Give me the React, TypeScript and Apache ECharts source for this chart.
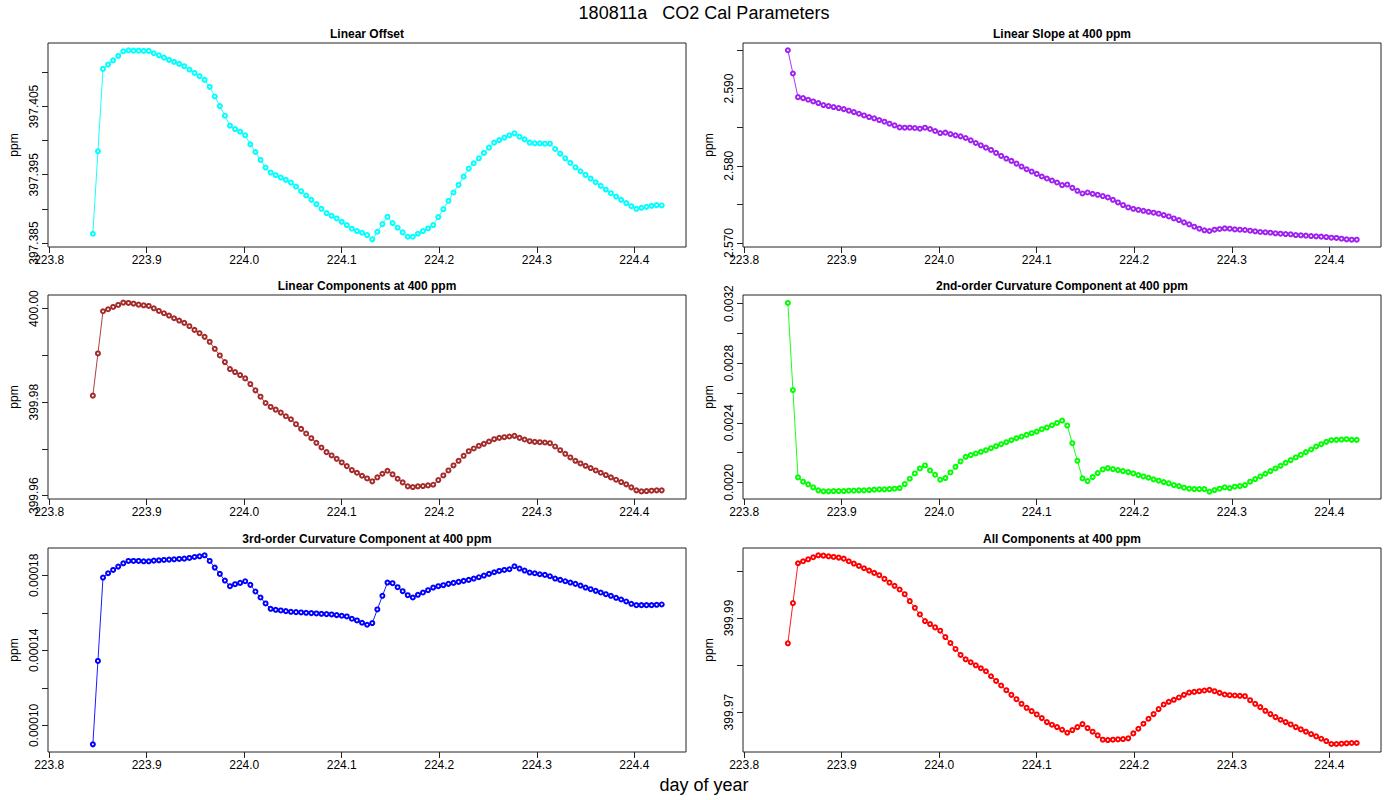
import React, { useEffect, useRef } from "react";
import * as echarts from "echarts";

// sample times (day of year), 7.5 min sampling
const dayOfYear = [
  223.8448, 223.8500, 223.8552, 223.8604, 223.8656, 223.8708, 223.8760, 223.8813, 223.8865, 223.8917,
  223.8969, 223.9021, 223.9073, 223.9125, 223.9177, 223.9229, 223.9281, 223.9333, 223.9385, 223.9438,
  223.9490, 223.9542, 223.9594, 223.9646, 223.9698, 223.9750, 223.9802, 223.9854, 223.9906, 223.9958,
  224.0010, 224.0063, 224.0115, 224.0167, 224.0219, 224.0271, 224.0323, 224.0375, 224.0427, 224.0479,
  224.0531, 224.0583, 224.0635, 224.0688, 224.0740, 224.0792, 224.0844, 224.0896, 224.0948, 224.1000,
  224.1052, 224.1104, 224.1156, 224.1208, 224.1260, 224.1313, 224.1365, 224.1417, 224.1469, 224.1521,
  224.1573, 224.1625, 224.1677, 224.1729, 224.1781, 224.1833, 224.1885, 224.1938, 224.1990, 224.2042,
  224.2094, 224.2146, 224.2198, 224.2250, 224.2302, 224.2354, 224.2406, 224.2458, 224.2510, 224.2563,
  224.2615, 224.2667, 224.2719, 224.2771, 224.2823, 224.2875, 224.2927, 224.2979, 224.3031, 224.3083,
  224.3135, 224.3188, 224.3240, 224.3292, 224.3344, 224.3396, 224.3448, 224.3500, 224.3552, 224.3604,
  224.3656, 224.3708, 224.3760, 224.3813, 224.3865, 224.3917, 224.3969, 224.4021, 224.4073, 224.4125,
  224.4177, 224.4229, 224.4281,
];

const linearOffset = [
  397.38636, 397.39843, 397.41050, 397.41113, 397.41176, 397.41240, 397.41308, 397.41322, 397.41317, 397.41317,
  397.41313, 397.41313, 397.41279, 397.41249, 397.41215, 397.41181, 397.41152, 397.41123, 397.41089, 397.41040,
  397.40991, 397.40943, 397.40889, 397.40787, 397.40646, 397.40505, 397.40364, 397.40218, 397.40169, 397.40130,
  397.40077, 397.39945, 397.39833, 397.39717, 397.39605, 397.39532, 397.39493, 397.39459, 397.39425, 397.39386,
  397.39327, 397.39259, 397.39196, 397.39133, 397.39069, 397.39001, 397.38938, 397.38899, 397.38860, 397.38811,
  397.38763, 397.38709, 397.38675, 397.38651, 397.38617, 397.38554, 397.38665, 397.38777, 397.38884, 397.38792,
  397.38724, 397.38656, 397.38592, 397.38592, 397.38636, 397.38675, 397.38714, 397.38763, 397.38880, 397.38996,
  397.39118, 397.39240, 397.39352, 397.39473, 397.39590, 397.39668, 397.39741, 397.39819, 397.39897, 397.39970,
  397.40008, 397.40043, 397.40077, 397.40106, 397.40057, 397.40018, 397.39970, 397.39960, 397.39960, 397.39955,
  397.39955, 397.39877, 397.39809, 397.39741, 397.39673, 397.39609, 397.39551, 397.39498, 397.39444, 397.39390,
  397.39337, 397.39283, 397.39230, 397.39181, 397.39133, 397.39084, 397.39040, 397.39001, 397.39016, 397.39030,
  397.39045, 397.39055, 397.39050,
];

const linearSlope = [
  2.59496, 2.59195, 2.58889, 2.58876, 2.58855, 2.58833, 2.58812, 2.58786, 2.58773, 2.58760,
  2.58747, 2.58734, 2.58713, 2.58695, 2.58674, 2.58652, 2.58631, 2.58614, 2.58592, 2.58571,
  2.58545, 2.58523, 2.58497, 2.58493, 2.58493, 2.58489, 2.58480, 2.58493, 2.58476, 2.58450,
  2.58424, 2.58429, 2.58411, 2.58394, 2.58381, 2.58360, 2.58330, 2.58295, 2.58265, 2.58235,
  2.58205, 2.58166, 2.58127, 2.58093, 2.58063, 2.58028, 2.57990, 2.57955, 2.57925, 2.57895,
  2.57861, 2.57835, 2.57809, 2.57783, 2.57749, 2.57757, 2.57714, 2.57676, 2.57641, 2.57654,
  2.57637, 2.57624, 2.57607, 2.57590, 2.57559, 2.57525, 2.57491, 2.57460, 2.57443, 2.57430,
  2.57417, 2.57404, 2.57392, 2.57379, 2.57361, 2.57344, 2.57318, 2.57297, 2.57267, 2.57241,
  2.57211, 2.57185, 2.57164, 2.57155, 2.57172, 2.57181, 2.57189, 2.57185, 2.57176, 2.57172,
  2.57168, 2.57159, 2.57151, 2.57142, 2.57138, 2.57133, 2.57125, 2.57120, 2.57116, 2.57112,
  2.57103, 2.57099, 2.57095, 2.57090, 2.57086, 2.57082, 2.57077, 2.57069, 2.57065, 2.57056,
  2.57047, 2.57043, 2.57043,
];

const linearComponents = [
  399.98139, 399.99041, 399.99943, 399.99986, 400.00036, 400.00078, 400.00128, 400.00121, 400.00107, 400.00085,
  400.00071, 400.00057, 400.00007, 399.99950, 399.99901, 399.99851, 399.99794, 399.99744, 399.99695, 399.99624,
  399.99545, 399.99474, 399.99396, 399.99290, 399.99140, 399.98998, 399.98856, 399.98707, 399.98643, 399.98579,
  399.98508, 399.98387, 399.98252, 399.98117, 399.97982, 399.97897, 399.97840, 399.97776, 399.97698, 399.97634,
  399.97528, 399.97428, 399.97329, 399.97229, 399.97130, 399.97030, 399.96931, 399.96860, 399.96789, 399.96711,
  399.96632, 399.96547, 399.96490, 399.96426, 399.96369, 399.96306, 399.96391, 399.96469, 399.96533, 399.96455,
  399.96362, 399.96284, 399.96199, 399.96185, 399.96199, 399.96206, 399.96220, 399.96234, 399.96334, 399.96433,
  399.96540, 399.96647, 399.96746, 399.96853, 399.96952, 399.97009, 399.97066, 399.97108, 399.97158, 399.97208,
  399.97236, 399.97250, 399.97265, 399.97279, 399.97236, 399.97201, 399.97165, 399.97151, 399.97144, 399.97137,
  399.97123, 399.97052, 399.96973, 399.96895, 399.96817, 399.96746, 399.96689, 399.96639, 399.96590, 399.96540,
  399.96490, 399.96441, 399.96391, 399.96341, 399.96291, 399.96242, 399.96178, 399.96114, 399.96092, 399.96099,
  399.96107, 399.96114, 399.96114,
];

const curvature2nd = [
  0.0032044, 0.0026200, 0.0020335, 0.0020045, 0.0019866, 0.0019665, 0.0019465, 0.0019398, 0.0019398, 0.0019420,
  0.0019420, 0.0019420, 0.0019442, 0.0019442, 0.0019465, 0.0019465, 0.0019487, 0.0019509, 0.0019532, 0.0019532,
  0.0019554, 0.0019576, 0.0019621, 0.0019888, 0.0020245, 0.0020602, 0.0020937, 0.0021138, 0.0020803, 0.0020513,
  0.0020178, 0.0020290, 0.0020669, 0.0021048, 0.0021405, 0.0021717, 0.0021829, 0.0021940, 0.0022052, 0.0022163,
  0.0022297, 0.0022431, 0.0022565, 0.0022699, 0.0022833, 0.0022966, 0.0023078, 0.0023189, 0.0023301, 0.0023413,
  0.0023569, 0.0023680, 0.0023836, 0.0023992, 0.0024149, 0.0023814, 0.0022632, 0.0021450, 0.0020268, 0.0020089,
  0.0020357, 0.0020625, 0.0020870, 0.0020959, 0.0020892, 0.0020825, 0.0020758, 0.0020691, 0.0020602, 0.0020491,
  0.0020401, 0.0020312, 0.0020201, 0.0020112, 0.0020022, 0.0019933, 0.0019822, 0.0019755, 0.0019643, 0.0019576,
  0.0019554, 0.0019554, 0.0019554, 0.0019375, 0.0019487, 0.0019576, 0.0019665, 0.0019621, 0.0019710, 0.0019755,
  0.0019822, 0.0020045, 0.0020223, 0.0020401, 0.0020580, 0.0020758, 0.0020937, 0.0021115, 0.0021316, 0.0021494,
  0.0021673, 0.0021851, 0.0022030, 0.0022208, 0.0022409, 0.0022565, 0.0022721, 0.0022833, 0.0022855, 0.0022877,
  0.0022900, 0.0022855, 0.0022855,
];

const curvature3rd = [
  0.8991e-4, 1.3434e-4, 1.7876e-4, 1.8106e-4, 1.8283e-4, 1.8460e-4, 1.8637e-4, 1.8761e-4, 1.8761e-4, 1.8761e-4,
  1.8743e-4, 1.8743e-4, 1.8779e-4, 1.8796e-4, 1.8814e-4, 1.8832e-4, 1.8850e-4, 1.8867e-4, 1.8885e-4, 1.8920e-4,
  1.8973e-4, 1.9009e-4, 1.9062e-4, 1.8761e-4, 1.8407e-4, 1.8071e-4, 1.7717e-4, 1.7416e-4, 1.7522e-4, 1.7593e-4,
  1.7681e-4, 1.7487e-4, 1.7133e-4, 1.6814e-4, 1.6496e-4, 1.6212e-4, 1.6159e-4, 1.6124e-4, 1.6088e-4, 1.6053e-4,
  1.6035e-4, 1.6018e-4, 1.6000e-4, 1.5982e-4, 1.5965e-4, 1.5947e-4, 1.5929e-4, 1.5911e-4, 1.5876e-4, 1.5841e-4,
  1.5805e-4, 1.5681e-4, 1.5593e-4, 1.5469e-4, 1.5363e-4, 1.5451e-4, 1.6177e-4, 1.6903e-4, 1.7611e-4, 1.7575e-4,
  1.7363e-4, 1.7150e-4, 1.6938e-4, 1.6814e-4, 1.6956e-4, 1.7080e-4, 1.7203e-4, 1.7345e-4, 1.7416e-4, 1.7469e-4,
  1.7540e-4, 1.7593e-4, 1.7646e-4, 1.7699e-4, 1.7752e-4, 1.7823e-4, 1.7894e-4, 1.7982e-4, 1.8071e-4, 1.8159e-4,
  1.8230e-4, 1.8283e-4, 1.8319e-4, 1.8478e-4, 1.8354e-4, 1.8248e-4, 1.8142e-4, 1.8106e-4, 1.8053e-4, 1.8018e-4,
  1.7947e-4, 1.7823e-4, 1.7752e-4, 1.7681e-4, 1.7611e-4, 1.7540e-4, 1.7451e-4, 1.7345e-4, 1.7257e-4, 1.7168e-4,
  1.7080e-4, 1.6991e-4, 1.6903e-4, 1.6796e-4, 1.6708e-4, 1.6602e-4, 1.6478e-4, 1.6407e-4, 1.6407e-4, 1.6407e-4,
  1.6407e-4, 1.6425e-4, 1.6442e-4,
];

const allComponents = [
  399.98461, 399.99315, 400.00162, 400.00204, 400.00246, 400.00289, 400.00331, 400.00324, 400.00310, 400.00296,
  400.00282, 400.00260, 400.00204, 400.00155, 400.00105, 400.00056, 400.00006, 399.99957, 399.99908, 399.99830,
  399.99752, 399.99682, 399.99604, 399.99505, 399.99357, 399.99216, 399.99075, 399.98934, 399.98870, 399.98800,
  399.98729, 399.98595, 399.98468, 399.98341, 399.98214, 399.98122, 399.98059, 399.97995, 399.97932, 399.97868,
  399.97762, 399.97663, 399.97565, 399.97466, 399.97367, 399.97275, 399.97176, 399.97092, 399.97021, 399.96951,
  399.96873, 399.96788, 399.96732, 399.96682, 399.96626, 399.96562, 399.96619, 399.96682, 399.96746, 399.96661,
  399.96584, 399.96506, 399.96414, 399.96407, 399.96414, 399.96421, 399.96428, 399.96443, 399.96548, 399.96647,
  399.96753, 399.96859, 399.96958, 399.97064, 399.97162, 399.97219, 399.97261, 399.97311, 399.97367, 399.97416,
  399.97430, 399.97445, 399.97459, 399.97473, 399.97445, 399.97409, 399.97374, 399.97360, 399.97353, 399.97346,
  399.97339, 399.97254, 399.97176, 399.97106, 399.97028, 399.96958, 399.96894, 399.96838, 399.96788, 399.96739,
  399.96682, 399.96633, 399.96584, 399.96534, 399.96485, 399.96435, 399.96386, 399.96323, 399.96323, 399.96330,
  399.96337, 399.96344, 399.96344,
];

// axis ticks and labels
const xTicks = [223.8, 223.9, 224.0, 224.1, 224.2, 224.3, 224.4];
const offsetTicks = [397.385, 397.39, 397.395, 397.4, 397.405, 397.41];
const offsetLabels = [397.385, 397.395, 397.405];
const slopeTicks = [2.57, 2.575, 2.58, 2.585, 2.59, 2.595];
const slopeLabels = [2.57, 2.58, 2.59];
const linCompTicks = [399.96, 399.97, 399.98, 399.99, 400.0];
const linCompLabels = [399.96, 399.98, 400.0];
const curv2Ticks = [0.002, 0.0022, 0.0024, 0.0026, 0.0028, 0.003, 0.0032];
const curv2Labels = [0.002, 0.0024, 0.0028, 0.0032];
const curv3Ticks = [0.0001, 0.00012, 0.00014, 0.00016, 0.00018];
const curv3Labels = [0.0001, 0.00014, 0.00018];
const allTicks = [399.97, 399.98, 399.99, 400.0];
const allLabels = [399.97, 399.99];

const FONT = "'Liberation Sans', Arial, Helvetica, sans-serif";
const PLOT_W = 638;
const PLOT_H = 204;
const COL_LEFT = [48, 743];
const ROW_TOP = [43, 295, 548];
const X_MIN = 223.7988;
const X_MAX = 224.453;

const panels = [
  { title: "Linear Offset", values: linearOffset, color: "#00FFFF", min: 397.38442, max: 397.41429, ticks: offsetTicks, labels: offsetLabels, digits: 3, col: 0, row: 0 },
  { title: "Linear Slope at 400 ppm", values: linearSlope, color: "#A020F0", min: 2.56948, max: 2.5959, ticks: slopeTicks, labels: slopeLabels, digits: 3, col: 1, row: 0 },
  { title: "Linear Components at 400 ppm", values: linearComponents, color: "#A52A2A", min: 399.95929, max: 400.00291, ticks: linCompTicks, labels: linCompLabels, digits: 2, col: 0, row: 1 },
  { title: "2nd-order Curvature Component at 400 ppm", values: curvature2nd, color: "#00FF00", min: 0.0018885, max: 0.0032579, ticks: curv2Ticks, labels: curv2Labels, digits: 4, col: 1, row: 1 },
  { title: "3rd-order Curvature Component at 400 ppm", values: curvature3rd, color: "#0000FF", min: 0.00008584, max: 0.00019451, ticks: curv3Ticks, labels: curv3Labels, digits: 5, col: 0, row: 2 },
  { title: "All Components at 400 ppm", values: allComponents, color: "#FF0000", min: 399.96153, max: 400.00486, ticks: allTicks, labels: allLabels, digits: 2, col: 1, row: 2 },
];

export default function App() {
  const ref = useRef<HTMLDivElement>(null);

  useEffect(() => {
    if (!ref.current) return;
    const chart = echarts.init(ref.current, undefined, { renderer: "svg" });

    const titles: any[] = [
      {
        text: "180811a   CO2 Cal Parameters",
        left: 704,
        top: 13,
        textAlign: "center",
        textVerticalAlign: "middle",
        padding: 0,
        textStyle: { fontSize: 18, fontWeight: "normal", fontFamily: FONT, color: "#000" },
      },
      {
        text: "day of year",
        left: 704,
        top: 785,
        textAlign: "center",
        textVerticalAlign: "middle",
        padding: 0,
        textStyle: { fontSize: 18, fontWeight: "normal", fontFamily: FONT, color: "#000" },
      },
    ];
    const titleY = [34, 286, 539];
    panels.forEach((p) => {
      titles.push({
        text: p.title,
        left: COL_LEFT[p.col] + PLOT_W / 2,
        top: titleY[p.row],
        textAlign: "center",
        textVerticalAlign: "middle",
        padding: 0,
        textStyle: { fontSize: 12, fontWeight: "bold", fontFamily: FONT, color: "#000" },
      });
    });

    const option: any = {
      animation: false,
      backgroundColor: "#fff",
      title: titles,
      grid: panels.map((p) => ({
        left: COL_LEFT[p.col],
        top: ROW_TOP[p.row],
        width: PLOT_W,
        height: PLOT_H,
        show: true,
        borderColor: "#222",
        borderWidth: 1,
        backgroundColor: "transparent",
        containLabel: false,
      })),
      xAxis: panels.map((p, i) => ({
        type: "value",
        gridIndex: i,
        min: X_MIN,
        max: X_MAX,
        axisLine: { show: false },
        splitLine: { show: false },
        axisTick: { show: true, inside: false, length: 6, customValues: xTicks, lineStyle: { color: "#222", width: 1 } },
        axisLabel: {
          show: true,
          customValues: xTicks,
          formatter: (v: number) => v.toFixed(1),
          margin: 7,
          fontSize: 12,
          fontFamily: FONT,
          color: "#000",
        },
      })),
      yAxis: panels.map((p, i) => ({
        type: "value",
        gridIndex: i,
        min: p.min,
        max: p.max,
        scale: true,
        name: "ppm",
        nameLocation: "middle",
        nameGap: 28,
        nameRotate: 90,
        nameTextStyle: { fontSize: 12, fontFamily: FONT, color: "#000" },
        axisLine: { show: false },
        splitLine: { show: false },
        axisTick: { show: true, inside: false, length: 6, customValues: p.ticks, lineStyle: { color: "#222", width: 1 } },
        axisLabel: {
          show: true,
          customValues: p.labels,
          rotate: 90,
          formatter: (v: number) => v.toFixed(p.digits),
          margin: 8,
          fontSize: 12,
          fontFamily: FONT,
          color: "#000",
        },
      })),
      series: panels.map((p, i) => ({
        type: "line",
        name: p.title,
        xAxisIndex: i,
        yAxisIndex: i,
        data: dayOfYear.map((t, k) => [t, p.values[k]]),
        symbol: "emptyCircle",
        symbolSize: 4,
        showSymbol: true,
        showAllSymbol: true,
        silent: true,
        lineStyle: { color: p.color, width: 0.9 },
        itemStyle: { color: p.color, borderColor: p.color, borderWidth: 1 },
        emphasis: { disabled: true },
      })),
    };

    chart.setOption(option);
    return () => {
      chart.dispose();
    };
  }, []);

  return (
    <div
      ref={ref}
      style={{ position: "absolute", left: 0, top: 0, width: 1400, height: 800, background: "#fff" }}
    />
  );
}
